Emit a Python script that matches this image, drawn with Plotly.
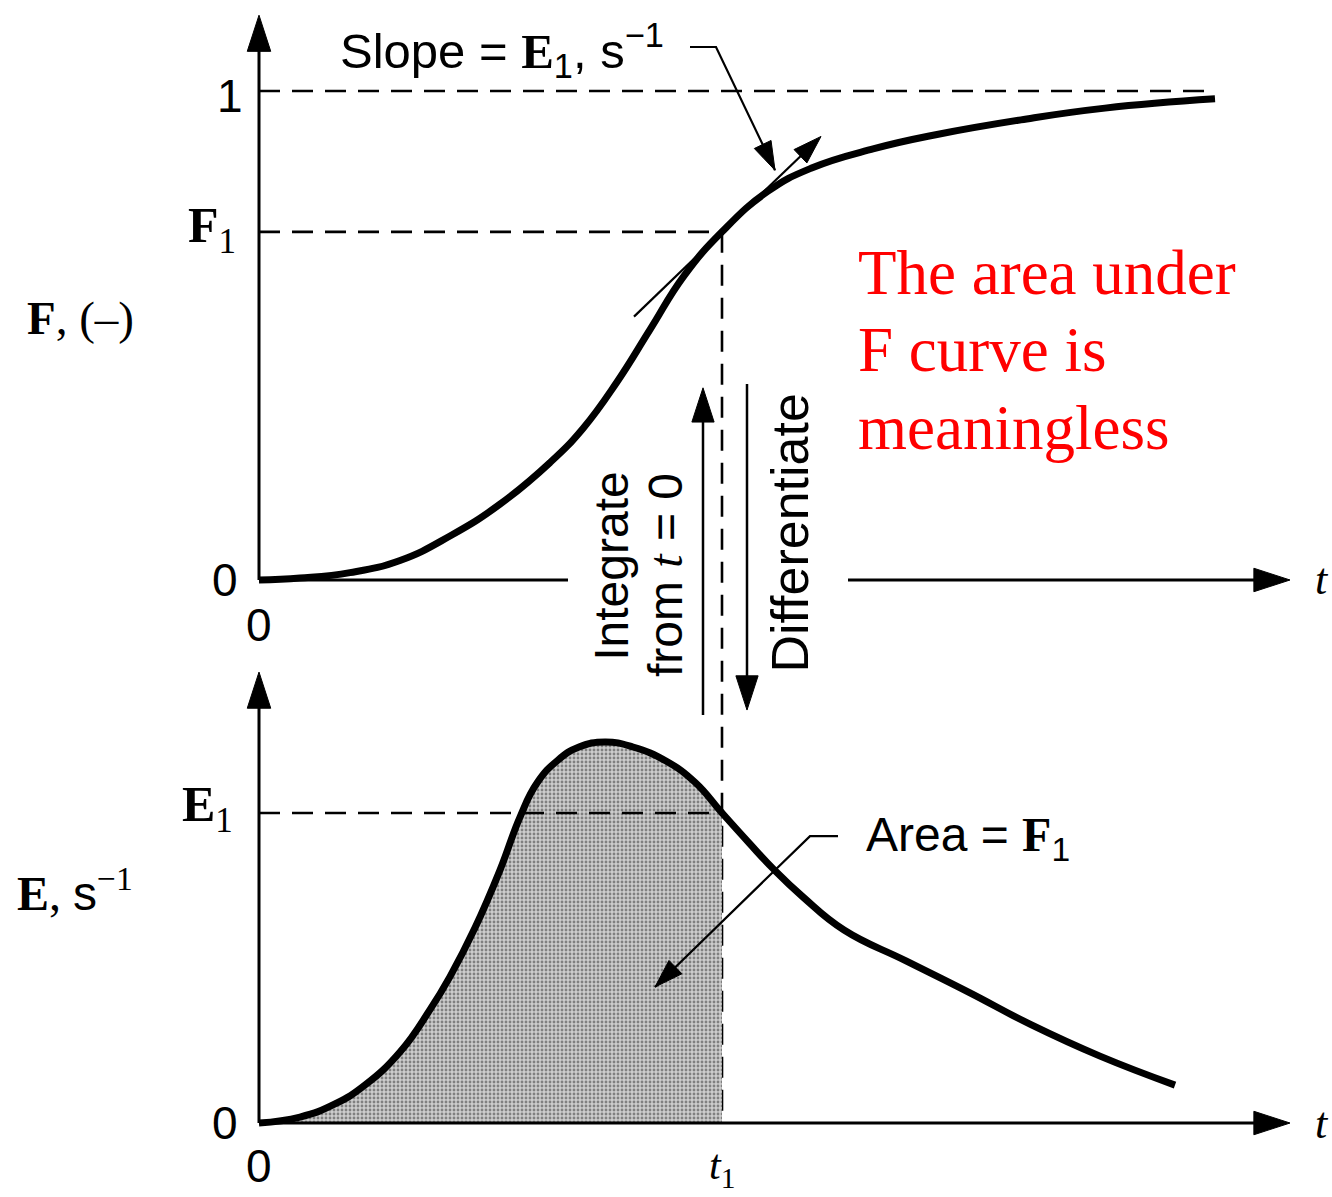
import plotly.graph_objects as go

# ---------------- data ----------------
# F curve (cumulative residence time distribution), t in time units
t_F = [0, 0.41, 0.91, 1.41, 1.91, 2.41, 2.91, 3.24, 3.58, 3.91, 4.25, 4.63,
       5.09, 5.52, 6.15, 6.78, 7.62, 8.46, 9.56]
F_vals = [0, 0.004, 0.015, 0.040, 0.090, 0.155, 0.240, 0.310, 0.405, 0.512,
          0.622, 0.712, 0.795, 0.842, 0.882, 0.911, 0.941, 0.965, 0.984]

# E curve (residence time density), 1/s
t_E = [0, 0.41, 0.76, 1.06, 1.41, 1.71, 1.91, 2.16, 2.41, 2.61, 2.78, 2.99,
       3.20, 3.46, 3.74, 4.07, 4.36, 4.63, 4.90, 5.15, 5.44, 5.85, 6.47,
       7.10, 7.72, 8.41, 9.16]
E_vals = [0, 0.0038, 0.0121, 0.0241, 0.0451, 0.0720, 0.0930, 0.1240, 0.1607,
          0.1944, 0.2160, 0.2306, 0.2389, 0.2421, 0.2389, 0.2300, 0.2165,
          0.1970, 0.1780, 0.1610, 0.1436, 0.1226, 0.1030, 0.0830, 0.0625,
          0.0425, 0.0241]

t1 = 4.63          # chosen time
F1 = 0.712         # F(t1)
E1 = 0.197         # E(t1) = slope of F at t1
F_end = 9.56       # extent of the F = 1 guide line

# axis ranges (both value axes span the whole figure height)
X_RANGE = [-2.59, 10.73]
F_RANGE = [-1.2618, 1.1861]
E_RANGE = [-0.0470, 0.7135]

# axis extents
F_axis_top = 1.155
E_axis_top = 0.2865
t_axis_end = 10.31
t_gap = [3.09, 5.89]       # break in the upper time axis for the labels

SANS = "Liberation Sans, Arial, sans-serif"
SERIF = "Liberation Serif, Times New Roman, serif"
BLACK = "black"
DASH = "21px,12px"
SMOOTH = 1.3


def E_to_F(e):
    frac = (e - E_RANGE[0]) / (E_RANGE[1] - E_RANGE[0])
    return F_RANGE[0] + frac * (F_RANGE[1] - F_RANGE[0])


def line(x, y, yaxis="y", width=2.5, dash=None, color=BLACK, shape="linear"):
    ln = dict(color=color, width=width, dash=dash, shape=shape)
    if shape == "spline":
        ln["smoothing"] = SMOOTH
    return go.Scatter(x=x, y=y, yaxis=yaxis, mode="lines", hoverinfo="skip", line=ln)


def arrow(x, y, yaxis="y", width=3, head=36):
    sizes = [0] * (len(x) - 1) + [head]
    return go.Scatter(x=x, y=y, yaxis=yaxis, mode="lines+markers", hoverinfo="skip",
                      line=dict(color=BLACK, width=width),
                      marker=dict(symbol="arrow", size=sizes, angleref="previous",
                                  color=BLACK, opacity=1,
                                  line=dict(width=1, color=BLACK)))


fig = go.Figure()

# ---- shaded area under E up to t1 ----
t_fill = [t for t in t_E if t <= t1]
E_fill = E_vals[:len(t_fill)]
fig.add_trace(go.Scatter(
    x=t_fill, y=E_fill, yaxis="y2", mode="lines", fill="tozeroy", hoverinfo="skip",
    line=dict(width=0, shape="spline", smoothing=SMOOTH),
    fillcolor="#c4c4c4",
    fillpattern=dict(shape=".", size=4, solidity=0.4, fgcolor="#333333",
                     bgcolor="#cdcdcd", fillmode="overlay")))

# ---- dashed guide lines ----
fig.add_trace(line([0, F_end], [1, 1], dash=DASH, width=2.6))
fig.add_trace(line([0, t1], [F1, F1], dash=DASH, width=2.6))
fig.add_trace(line([0, t1], [E1, E1], yaxis="y2", dash=DASH, width=2.6))
fig.add_trace(line([t1, t1], [F1, E_to_F(0)], dash=DASH, width=2.6))

# ---- axes (upper panel) ----
fig.add_trace(arrow([0, 0], [0, F_axis_top], width=3, head=38))
fig.add_trace(line([0, t_gap[0]], [0, 0], width=3))
fig.add_trace(arrow([t_gap[1], t_axis_end], [0, 0], width=3, head=38))

# ---- axes (lower panel) ----
fig.add_trace(arrow([0, 0], [0, E_axis_top], yaxis="y2", width=3, head=38))
fig.add_trace(arrow([0, t_axis_end], [0, 0], yaxis="y2", width=3, head=38))

# ---- curves ----
fig.add_trace(line(t_F, F_vals, width=7, shape="spline"))
fig.add_trace(line(t_E, E_vals, yaxis="y2", width=7, shape="spline"))

# ---- tangent with slope E1 at t1 ----
tan_t = [3.75, 5.62]
tan_F = [F1 + E1 * (t - t1) for t in tan_t]
fig.add_trace(arrow(tan_t, tan_F, width=2.2, head=30))

# ---- callout leaders ----
fig.add_trace(arrow([4.31, 4.57, 5.16], [1.090, 1.090, 0.838], width=2.2, head=30))
fig.add_trace(arrow([5.79, 5.51, 3.96], [0.1823, 0.1823, 0.0864], yaxis="y2",
                    width=2.2, head=30))

# ---- integrate / differentiate arrows ----
fig.add_trace(arrow([4.44, 4.44], [-0.276, 0.393], width=2.5, head=36))
fig.add_trace(arrow([4.88, 4.88], [0.401, -0.266], width=2.5, head=36))

# ---------------- text ----------------
def bserif(s):
    return f'<span style="font-family:{SERIF}"><b>{s}</b></span>'


def iserif(s):
    return f'<span style="font-family:{SERIF}"><i>{s}</i></span>'


def sans(s):
    return f'<span style="font-family:{SANS}">{s}</span>'


ann = []


def txt(text, x, y, yref="y", size=46, family=SANS, color=BLACK,
        xanchor="center", yanchor="middle", angle=0):
    ann.append(dict(text=text, x=x, y=y, xref="x", yref=yref, showarrow=False,
                    font=dict(family=family, size=size, color=color),
                    xanchor=xanchor, yanchor=yanchor, textangle=angle))


# upper panel labels
txt(f"Slope = {bserif('E')}<sub>1</sub>, s<sup>\u22121</sup>", 0.79, 1.083,
    size=49, xanchor="left")
txt("1", -0.14, 0.99, size=46, xanchor="right")
txt(f"{bserif('F')}<sub>1</sub>", -0.21, F1 + 0.005, size=50, family=SERIF,
    xanchor="right")
txt("<b>F</b>, (\u2013)", -2.34, 0.536, size=47, family=SERIF, xanchor="left")
txt("0", -0.19, 0.0, size=46, xanchor="right")
txt("0", 0.0, -0.092, size=46)
txt("<i>t</i>", 10.63, 0.0, size=44, family=SERIF)

# red remark
for i, s in enumerate(["The area under", "F curve is", "meaningless"]):
    txt(s, 5.97, 0.628 - i * 0.1585, size=63, family=SERIF, color="#ff0000",
        xanchor="left")

# rotated operation labels
txt("Integrate", 3.53, 0.027, size=48, angle=-90)
txt(f"from {iserif('t')} = 0", 4.06, 0.010, size=48, angle=-90)
txt("Differentiate", 5.31, 0.095, size=52, angle=-90)

# lower panel labels
txt(f"Area = {bserif('F')}<sub>1</sub>", 6.05, 0.181, yref="y2", size=48,
    xanchor="left")
txt(f"{bserif('E')}<sub>1</sub>", -0.24, E1 + 0.003, yref="y2", size=50,
    family=SERIF, xanchor="right")
txt(f"<b>E</b>, {sans('s')}<sup>\u22121</sup>",
    -2.44, 0.148, yref="y2", size=48, family=SERIF, xanchor="left")
txt("0", -0.19, 0.0, yref="y2", size=46, xanchor="right")
txt("0", 0.0, -0.0275, yref="y2", size=46)
txt("<i>t</i>", 10.63, 0.0, yref="y2", size=44, family=SERIF)
txt("<i>t</i><sub>1</sub>", t1, -0.0285, yref="y2", size=42, family=SERIF)

hidden = dict(visible=False, showgrid=False, zeroline=False, fixedrange=True)
fig.update_layout(
    width=1332, height=1197, autosize=False,
    margin=dict(l=0, r=0, t=0, b=0),
    paper_bgcolor="white", plot_bgcolor="white",
    showlegend=False, hovermode=False,
    xaxis=dict(range=X_RANGE, domain=[0, 1], **hidden),
    yaxis=dict(range=F_RANGE, domain=[0, 1], **hidden),
    yaxis2=dict(range=E_RANGE, overlaying="y", **hidden),
    annotations=ann,
)

fig.write_html("out.html")
